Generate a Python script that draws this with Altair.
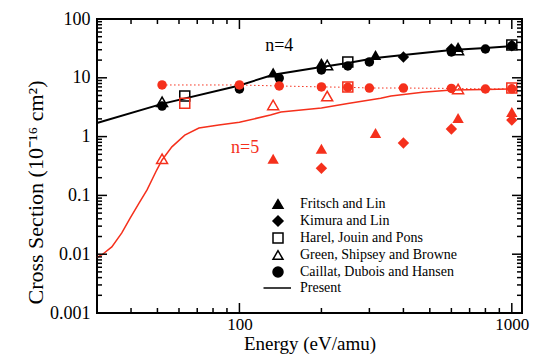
import altair as alt
import pandas as pd

RED = "#f5301c"
SERIF = "Liberation Serif"

# ---- Present calculation (solid lines) ----
pres4_x = [30, 52, 100, 133, 200, 250, 316, 400, 600, 800, 1000]
pres4_y = [1.70, 3.6, 7.4, 11.3, 15.3, 17.9, 21.7, 24.4, 29.7, 32.2, 34.7]
pres5_x = [30, 31.3, 34, 37, 39.7, 42.8, 45.8, 49.7, 52, 56.5, 63, 71, 84, 100,
           130, 142, 200, 250, 330, 360, 470, 600, 800, 1000]
pres5_y = [0.0088, 0.0098, 0.0133, 0.023, 0.041, 0.074, 0.124, 0.27, 0.40, 0.67,
           1.06, 1.40, 1.57, 1.75, 2.33, 2.62, 3.06, 3.64, 4.5, 4.9, 5.7, 6.2, 6.35, 6.45]

# ---- Other calculations (markers), n=4 and n=5 ----
fritsch4_x = [133, 200, 316, 635, 1000]
fritsch4_y = [12.3, 17.9, 24.4, 33.4, 37.0]
fritsch5_x = [133, 200, 316, 635, 1000]
fritsch5_y = [0.42, 0.62, 1.15, 2.07, 2.62]

kimura4_x = [400, 600, 1000]
kimura4_y = [22.6, 31.0, 35.0]
kimura5_x = [200, 400, 600, 1000]
kimura5_y = [0.29, 0.78, 1.35, 1.91]

harel4_x = [63, 250, 1000]
harel4_y = [4.9, 18.6, 36.0]
harel5_x = [63, 250, 1000]
harel5_y = [3.7, 7.0, 6.7]

green4_x = [52, 210, 635]
green4_y = [3.9, 16.5, 29.7]
green5_x = [52, 133, 210, 635]
green5_y = [0.42, 3.45, 4.9, 6.45]

caillat4_x = [52, 100, 140, 200, 250, 300, 600, 800, 1000]
caillat4_y = [3.3, 6.45, 9.9, 13.6, 15.9, 18.6, 27.5, 30.9, 35.0]
caillat5_x = [52, 100, 140, 200, 250, 300, 400, 600, 800, 1000]
caillat5_y = [7.55, 7.55, 7.26, 7.0, 6.9, 6.7, 6.7, 6.6, 6.45, 6.5]

legend_names = ["Fritsch and Lin", "Kimura and Lin", "Harel, Jouin and Pons",
                "Green, Shipsey and Browne", "Caillat, Dubois and Hansen", "Present"]

annot_text = ["n=4", "n=5"]
annot_x = [140, 105]
annot_y = [34.7, 0.64]
annot_color = ["black", RED]

x_major = [100, 1000]
x_minor = [40, 50, 60, 70, 80, 90, 200, 300, 400, 500, 600, 700, 800, 900]
y_major = [0.001, 0.01, 0.1, 1, 10, 100]
y_minor = [k * 10.0 ** e for e in range(-3, 2) for k in range(2, 10)]

W, H = 425, 294

x_scale = alt.Scale(type="log", domain=[30, 1090], nice=False)
y_scale = alt.Scale(type="log", domain=[0.001, 100], nice=False)

X_AX = alt.Axis(values=x_major, format="~g", ticks=False, domain=False, grid=False,
                labelFont=SERIF, labelFontSize=17, labelColor="black", labelPadding=3,
                labelFlush=False, title="Energy (eV/amu)", titleFont=SERIF,
                titleFontSize=19, titleFontWeight="normal", titleColor="black",
                titleY=36, titleBaseline="alphabetic")
Y_AX = alt.Axis(values=y_major, format="~g", ticks=False, domain=False, grid=False,
                labelFont=SERIF, labelFontSize=18, labelColor="black", labelPadding=7,
                title="Cross Section (10⁻¹⁶ cm²)", titleFont=SERIF, titleFontSize=22,
                titleFontWeight="normal", titleColor="black", titleX=-62, titleY=173,
                titleAlign="center", titleBaseline="middle", titleAngle=270)


def df(xs, ys):
    return pd.DataFrame({"x": xs, "y": ys})


def xy(fx="x", fy="y"):
    return dict(
        x=alt.X(f"{fx}:Q", scale=x_scale, axis=X_AX),
        y=alt.Y(f"{fy}:Q", scale=y_scale, axis=Y_AX),
    )


layers = []
layers.append(alt.Chart(df(pres4_x, pres4_y)).mark_line(color="black", strokeWidth=2)
              .encode(**xy()))
layers.append(alt.Chart(df(pres5_x, pres5_y)).mark_line(color=RED, strokeWidth=1.5)
              .encode(**xy()))
layers.append(alt.Chart(df(caillat5_x, caillat5_y))
              .mark_line(color=RED, strokeWidth=1, strokeDash=[1.5, 2.5]).encode(**xy()))

marker_sets = [
    (harel4_x, harel4_y, "square", False, "black", 100),
    (harel5_x, harel5_y, "square", False, RED, 100),
    (green4_x, green4_y, "triangle-up", False, "black", 120),
    (green5_x, green5_y, "triangle-up", False, RED, 120),
    (caillat4_x, caillat4_y, "circle", True, "black", 90),
    (caillat5_x, caillat5_y, "circle", True, RED, 90),
    (fritsch4_x, fritsch4_y, "triangle-up", True, "black", 130),
    (fritsch5_x, fritsch5_y, "triangle-up", True, RED, 130),
    (kimura4_x, kimura4_y, "diamond", True, "black", 130),
    (kimura5_x, kimura5_y, "diamond", True, RED, 130),
]
for xs, ys, shp, filled, col, sz in marker_sets:
    if filled:
        mk = alt.Chart(df(xs, ys)).mark_point(shape=shp, filled=True, color=col, size=sz,
                                              opacity=1)
    else:
        mk = alt.Chart(df(xs, ys)).mark_point(shape=shp, filled=False, color=col, size=sz,
                                              strokeWidth=1.5, opacity=1)
    layers.append(mk.encode(**xy()))


# inward ticks on all four sides
def xticks(vals, length):
    d = pd.DataFrame({"v": vals})
    xe = alt.X("v:Q", scale=x_scale, axis=X_AX)
    bot = alt.Chart(d).mark_rule(color="black", strokeWidth=1.5).encode(
        x=xe, y=alt.value(H), y2=alt.value(H - length))
    top = alt.Chart(d).mark_rule(color="black", strokeWidth=1.5).encode(
        x=xe, y=alt.value(0), y2=alt.value(length))
    return [bot, top]


def yticks(vals, length):
    d = pd.DataFrame({"v": vals})
    ye = alt.Y("v:Q", scale=y_scale, axis=Y_AX)
    left = alt.Chart(d).mark_rule(color="black", strokeWidth=1.5).encode(
        y=ye, x=alt.value(0), x2=alt.value(length))
    right = alt.Chart(d).mark_rule(color="black", strokeWidth=1.5).encode(
        y=ye, x=alt.value(W), x2=alt.value(W - length))
    return [left, right]


layers += xticks(x_major, 10) + xticks(x_minor, 5)
layers += yticks(y_major, 10) + yticks(y_minor, 5)

annot = pd.DataFrame({"t": annot_text, "x": annot_x, "y": annot_y, "c": annot_color})
layers.append(alt.Chart(annot).mark_text(font=SERIF, fontSize=18).encode(
    **xy(), text="t:N", color=alt.Color("c:N", scale=None, legend=None)))

# legend (no visible data marks; legend built from explicit scale domain)
leg_df = pd.DataFrame({"series": legend_names, "x": [None] * 6, "y": [None] * 6})
shape_range = ["triangle-up", "diamond", "square", "triangle-up", "circle", "M-2.9,0H2.6"]
fill_range = ["black", "black", "transparent", "transparent", "black", "transparent"]
stroke_range = ["black"] * 6
LEG = alt.Legend(orient="none", legendX=174, legendY=178, title=None, padding=0,
                 labelFont=SERIF, labelFontSize=14, labelColor="black", labelOffset=15,
                 symbolSize=100, symbolStrokeColor="black", symbolStrokeWidth=1.5,
                 symbolOpacity=1, rowPadding=1)
layers.append(alt.Chart(leg_df).mark_point(filled=True, strokeWidth=1.5, size=100,
                                           opacity=1).encode(
    **xy(),
    shape=alt.Shape("series:N", scale=alt.Scale(domain=legend_names, range=shape_range),
                    legend=LEG),
    fill=alt.Fill("series:N", scale=alt.Scale(domain=legend_names, range=fill_range),
                  legend=LEG),
    stroke=alt.Stroke("series:N", scale=alt.Scale(domain=legend_names, range=stroke_range),
                      legend=LEG),
))

chart = alt.layer(*layers).properties(
    width=W, height=H,
    autosize=alt.AutoSizeParams(type="none"),
    padding={"left": 97, "top": 19, "right": 15, "bottom": 42},
    background="white",
).configure_view(stroke="black", strokeWidth=2)

chart.save("out.html", embed_options={"renderer": "svg", "actions": False})
